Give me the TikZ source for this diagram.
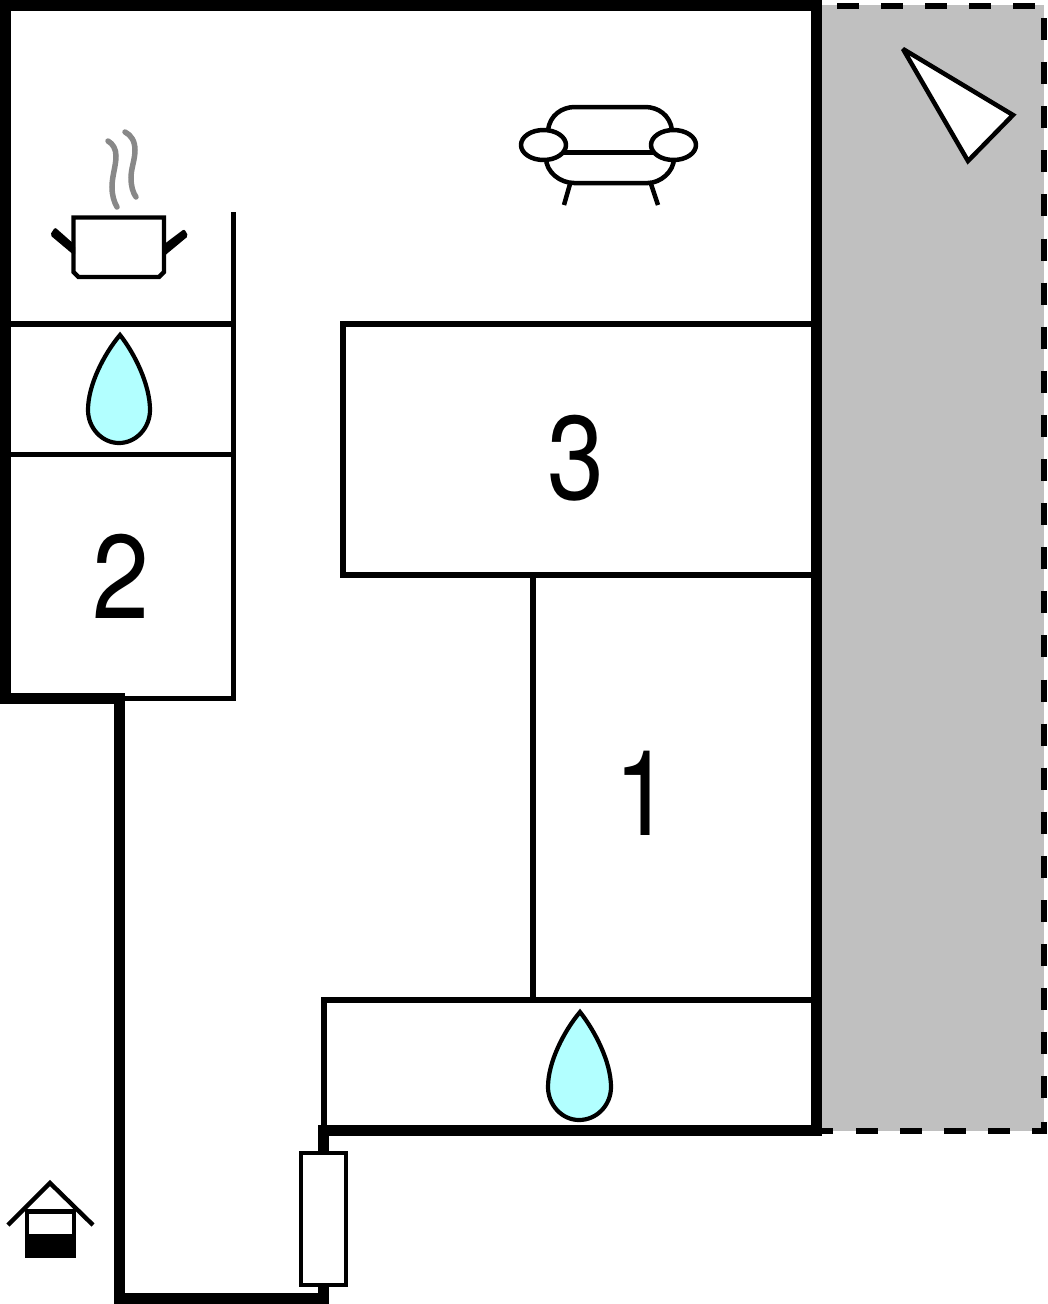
\documentclass[tikz,border=0pt]{standalone}
\usepackage{fontspec}
\setmainfont{TeX Gyre Heros}
\begin{document}
\begin{tikzpicture}[x=1pt,y=-1pt,
  thick wall/.style={line width=11pt,line cap=butt,line join=miter},
  thin wall/.style={line width=5.5pt,line cap=butt,line join=miter},
  fence/.style={line width=6pt,dash pattern=on 22pt off 22.1pt},
  icon/.style={line width=4.5pt,line join=round},
  drop/.style={draw=black,fill=dropblue,line width=4.2pt,line join=miter},
  numeral/.style={font=\fontsize{119}{119}\selectfont,text=black,inner sep=0pt}]
\definecolor{dropblue}{RGB}{178,255,255}
\definecolor{terrace}{RGB}{192,192,192}
\definecolor{steam}{RGB}{136,136,136}
\useasboundingbox (0,0) rectangle (1047,1304);
\fill[white] (0,0) rectangle (1047,1304);
% terrace
\fill[terrace] (822,5) rectangle (1044,1131);
\draw[fence] (837,5.5) -- (1047,5.5);
\draw[fence] (1044,18) -- (1044,1100);
\draw[fence] (856,1131) -- (1030,1131);
\draw[line width=6pt] (822,1131) -- (833,1131);
\draw[line width=6pt] (1032,1131) -- (1044,1131) (1044,1122) -- (1044,1134);
% thin walls
\draw[thin wall] (233.5,212) -- (233.5,698.5) -- (119,698.5);
\draw[thin wall] (5,324) -- (233,324);
\draw[thin wall] (5,454.5) -- (233,454.5);
\draw[thin wall] (816,324) -- (343,324) -- (343,575) -- (816,575);
\draw[thin wall] (533,575) -- (533,1000);
\draw[thin wall] (816,1000) -- (324,1000) -- (324,1131);
% thick walls
\draw[thick wall] (0,698) -- (5.5,698) -- (5.5,5.5) -- (816.5,5.5) -- (816.5,1130.5) -- (323.5,1130.5);
\draw[thick wall] (323.5,1125) -- (323.5,1160);
\draw[thick wall] (0,698) -- (119.5,698) -- (119.5,1298.5) -- (323.5,1298.5) -- (323.5,1280);
% meter box
\draw[line width=4pt,fill=white] (301,1153) rectangle (346,1285);
% numerals
\node[numeral] (n3) at (576,458) {\scalebox{0.86}[1]{3}};
\node[numeral] (n2) at (121,576) {\scalebox{0.86}[1]{2}};
\node[numeral] (n1) at (643,793) {\scalebox{0.86}[1]{1}};
% drops
\draw[drop] (120,335) .. controls (135,354) and (150,385) .. (150,410)
  .. controls (150,428) and (136,443) .. (119,443)
  .. controls (102,443) and (88,428) .. (88,410)
  .. controls (88,385) and (104,354) .. (120,335) -- cycle;
\draw[drop] (580,1012) .. controls (595,1031) and (611,1062) .. (611,1087)
  .. controls (611,1105) and (597,1120) .. (579,1120)
  .. controls (562,1120) and (548,1105) .. (548,1087)
  .. controls (548,1062) and (564,1031) .. (580,1012) -- cycle;
% pot
\fill[rounded corners=2pt] (55,227.3) -- (75,245) -- (75,256) -- (50,235) -- cycle;
\fill[rounded corners=2pt] (184.3,229) -- (163,245) -- (163,257) -- (188.3,236) -- cycle;
\draw[line width=4.4pt,line join=miter] (73.5,217.5) -- (164,217.5) -- (164,272) -- (159,277) -- (78.5,277) -- (73.5,272) -- cycle;
\draw[steam,line width=5.5pt,line cap=round] (108,141) .. controls (113,144) and (116,149) .. (116,156)
  .. controls (116,166) and (112,176) .. (112,187) .. controls (112,195) and (114,202) .. (117,207);
\draw[steam,line width=5.5pt,line cap=round] (125,132) .. controls (131,135) and (135,141) .. (135,150)
  .. controls (135,160) and (131,168) .. (131,178) .. controls (131,186) and (133,193) .. (136,197);
% sofa
\draw[icon] (548,130) .. controls (550,115) and (562,107) .. (575,107) -- (645,107) .. controls (658,107) and (670,115) .. (672,130);
\draw[icon] (546,158) .. controls (546,172) and (560,183) .. (574,183) -- (648,183) .. controls (660,183) and (674,172) .. (674,158);
\draw[icon,line width=5pt] (564,152.5) -- (654,152.5);
\draw[icon] (570,184) -- (564,205);
\draw[icon] (651,184) -- (658,205);
\draw[icon,fill=white] (543.5,145) ellipse [x radius=22.5,y radius=15];
\draw[icon,fill=white] (673.5,145) ellipse [x radius=22.5,y radius=15];
% north triangle
\draw[line width=4.5pt,fill=white,line join=miter,miter limit=3] (903,49) -- (1013,115) -- (968,161) -- cycle;
% well / house mark
\draw[line width=4.4pt,line cap=butt] (8,1225) -- (50,1183) -- (93,1225);
\draw[line width=4.4pt] (27,1211.5) rectangle (74,1256);
\fill (25,1234) rectangle (76,1258);
\end{tikzpicture}
\end{document}
